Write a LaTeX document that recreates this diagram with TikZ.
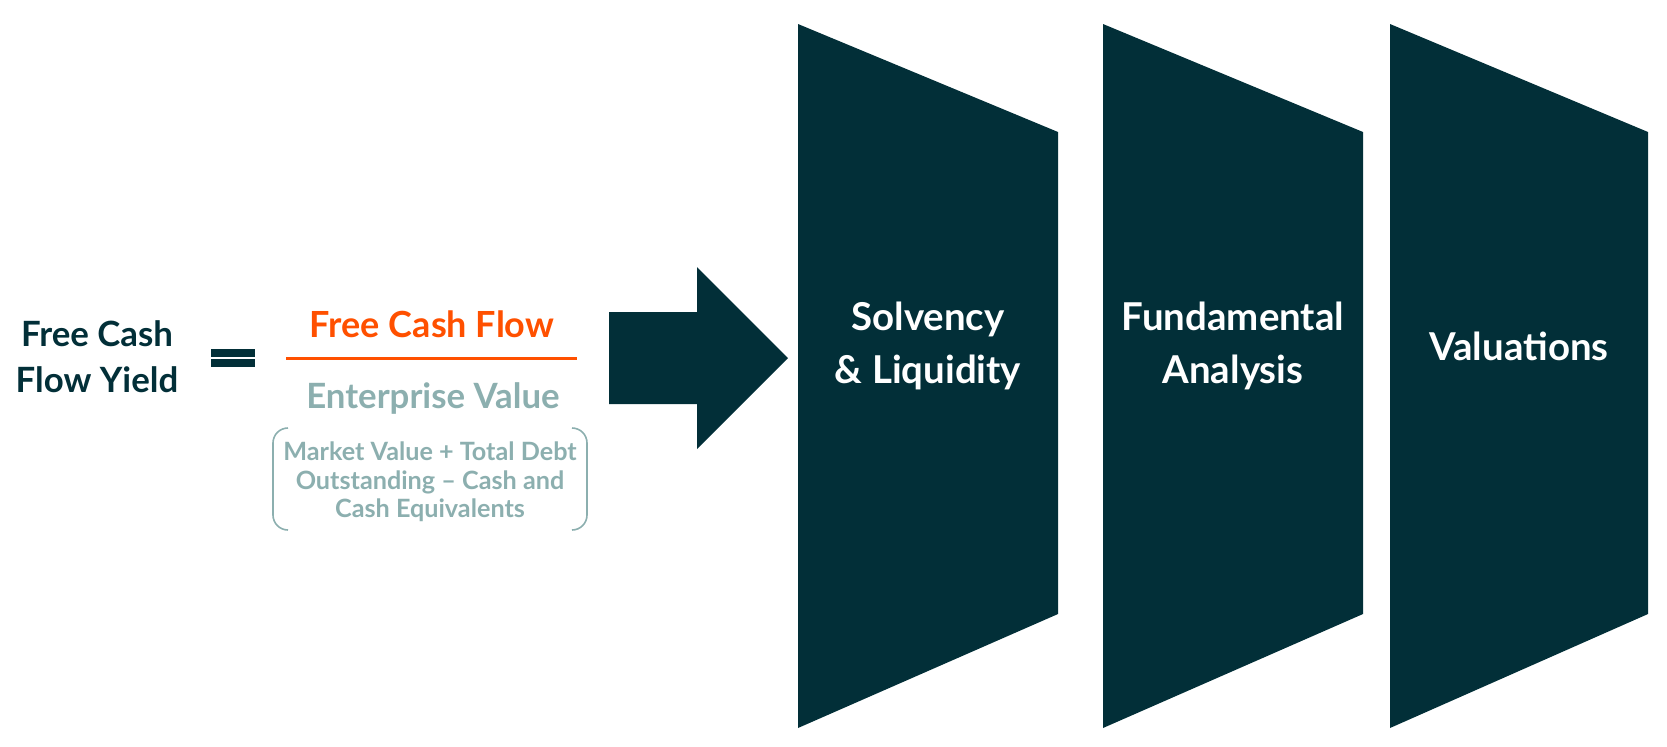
\documentclass[tikz,border=0pt]{standalone}
\usepackage{fontspec}
\setmainfont{Lato}
\usepackage{xcolor}
\usetikzlibrary{calc}

\definecolor{darkteal}{RGB}{2,47,56}
\definecolor{flameorange}{RGB}{255,80,0}
\definecolor{sagegray}{RGB}{140,175,175}

\begin{document}
\begin{tikzpicture}[x=0.5pt, y=-0.5pt,
    panel/.style={fill=darkteal},
    paneltext/.style={text=white, font=\bfseries\fontsize{19.2}{26.5}\selectfont, align=center, inner sep=0pt},
    lefttext/.style={font=\bfseries\fontsize{17.4}{23}\selectfont, align=center, inner sep=0pt}]
      \useasboundingbox (0, 0) rectangle (1667, 746);

      % left side of the formula
      \node[lefttext, text=darkteal] (yield) at (97, 357) {Free Cash\\Flow Yield};
      \fill[darkteal] (211, 349) rectangle (255, 356.5);
      \fill[darkteal] (211, 359) rectangle (255, 366.5);

      % fraction
      \node[lefttext, text=flameorange, anchor=base, font=\bfseries\fontsize{18}{23}\selectfont] (fcf) at (432, 337) {Free Cash Flow};
      \node[lefttext, text=sagegray, anchor=base] (ev) at (433, 408) {Enterprise Value};
      \coordinate (barL) at (286, 358.5);
      \coordinate (barR) at (577, 358.5);
      \draw[flameorange, line width=1.5pt] (barL) -- (barR);
      \node[text=sagegray, font=\bfseries\fontsize{12.6}{14.2}\selectfont, align=center, inner sep=0pt] (evdef) at (430, 482) {Market Value + Total Debt\\Outstanding -- Cash and\\Cash Equivalents};
      \draw[sagegray, line width=0.8pt, rounded corners=7.5pt] (288, 428) -| (273, 530) -- (288, 530);
      \draw[sagegray, line width=0.8pt, rounded corners=7.5pt] (572, 428) -| (587, 530) -- (572, 530);

      % big arrow
      \fill[darkteal] (609, 312) -- (697, 312) -- (697, 267) -- (788, 358) -- (697, 449) -- (697, 404) -- (609, 404) -- cycle;

      % panels
      \fill[panel] (798, 24) -- (1058, 132) -- (1058, 614) -- (798, 728) -- cycle;
      \fill[panel] (1103, 24) -- (1363, 132) -- (1363, 614) -- (1103, 728) -- cycle;
      \fill[panel] (1390, 24) -- (1648, 132) -- (1648, 614) -- (1390, 728) -- cycle;

      \node[paneltext] (solv) at (928, 346) {Solvency\\\& Liquidity};
      \node[paneltext] (fund) at (1233, 346) {Fundamental\\Analysis};
      \node[paneltext] (valu) at (1519, 346) {Valuations};
\end{tikzpicture}
\end{document}
